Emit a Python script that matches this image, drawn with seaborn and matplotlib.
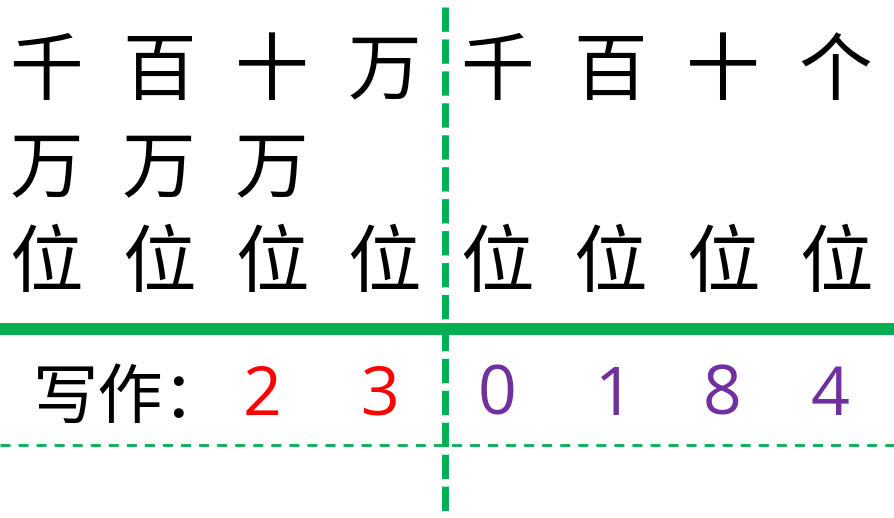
import matplotlib
matplotlib.use("Agg")
import matplotlib.pyplot as plt
import seaborn as sns

# ---- content ----
row1 = ["千", "百", "十", "万", "千", "百", "十", "个"]
row2 = ["万", "万", "万", "", "", "", "", ""]
row3 = ["位", "位", "位", "位", "位", "位", "位", "位"]
written_label = "写作："
digits = ["2", "3", "0", "1", "8", "4"]
digit_colors = ["#FF0000", "#FF0000", "#7030A0", "#7030A0", "#7030A0", "#7030A0"]

GREEN = "#00B050"

sns.set_theme(style="white")
plt.rcParams["font.family"] = ["Noto Sans CJK SC", "DejaVu Sans"]
plt.rcParams["lines.scale_dashes"] = False

W, H = 895, 518
fig = plt.figure(figsize=(W / 100, H / 100), dpi=100)
ax = fig.add_axes([0, 0, 1, 1])
ax.set_xlim(0, W)
ax.set_ylim(H, 0)
ax.axis("off")

col_x = [46 + 112.8 * i for i in range(8)]
row_y = [73, 171, 265]

for r, row in enumerate([row1, row2, row3]):
    for i, ch in enumerate(row):
        if ch:
            ax.text(col_x[i], row_y[r], ch, fontsize=53, ha="center", va="center",
                    color="black")

# lines
ax.plot([0, W], [329, 329], color=GREEN, lw=8.6, solid_capstyle="butt")
ax.plot([0, W], [445, 445], color=GREEN, lw=2.0, linestyle=(0, (7.2, 5.8)))
ax.plot([445.5, 445.5], [7, 512], color=GREEN, lw=5.0, linestyle=(0, (17.5, 5.5)),
        dash_capstyle="butt")

# written row
ax.text(33, 400, written_label, fontsize=47, ha="left", va="center", color="black")
digit_x = [262, 380, 497, 614, 722, 830]
for x, d, c in zip(digit_x, digits, digit_colors):
    ax.text(x, 397, d, fontsize=49, ha="center", va="center", color=c,
            family=["Open Sans", "DejaVu Sans"])

fig.savefig("out.png", dpi=100, facecolor="white")
